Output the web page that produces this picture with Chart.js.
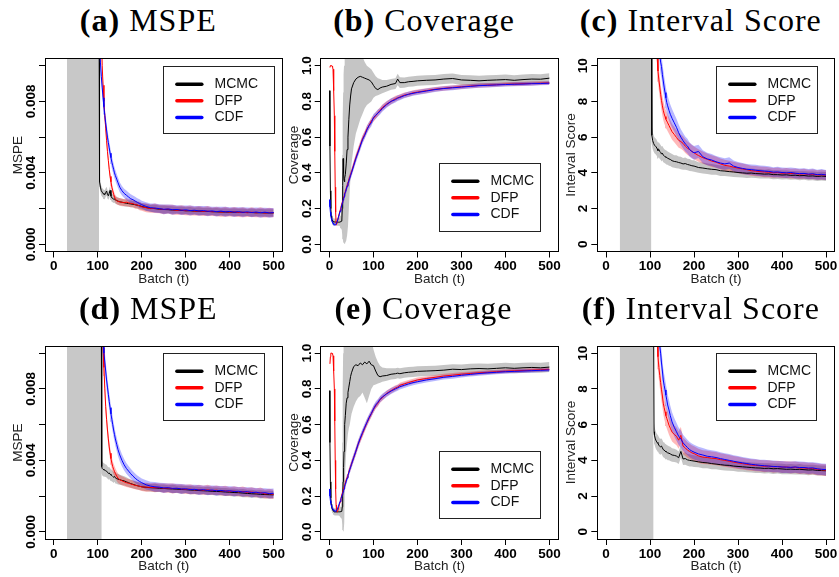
<!DOCTYPE html>
<html>
<head>
<meta charset="utf-8">
<script src="https://cdn.jsdelivr.net/npm/chart.js@4.4.1/dist/chart.umd.min.js"></script>
<style>
  body { margin: 0; background: #fff; }
  #fig { position: relative; width: 839px; height: 577px; overflow: hidden; background: #fff; }
  #fig canvas { position: absolute; }
  .ttl { position: absolute; font-family: "Liberation Serif", "Times New Roman", serif; font-size: 32px;
         line-height: 40px; letter-spacing: 1px; white-space: nowrap; color: #000; transform: translateX(-50%); }
</style>
</head>
<body>
<div id="fig"></div>
<script>
// ---------- series, ticks ----------
const seriesNames = ['MCMC', 'DFP', 'CDF'];
const seriesColors = ['#000000', '#ff0000', '#0000ff'];
const bandColors = ['rgba(140,140,140,0.5)', 'rgba(255,0,0,0.28)', 'rgba(0,0,255,0.28)'];

const xTicks = [0, 100, 200, 300, 400, 500];
const xTickLabels = ['0', '100', '200', '300', '400', '500'];
const mspeTicks = [0, 0.002, 0.004, 0.006, 0.008, 0.010];
const mspeTickLabels = ['0.000', '', '0.004', '', '0.008', ''];
const covTicks = [0, 0.2, 0.4, 0.6, 0.8, 1.0];
const covTickLabels = ['0.0', '0.2', '0.4', '0.6', '0.8', '1.0'];
const isTicks = [0, 2, 4, 6, 8, 10];
const isTickLabels = ['0', '2', '4', '6', '8', '10'];

// batches at which the curves are recorded
const batchTop = [103,104,106,108,110,112,114,116,118,120,122,124,126,128,130,132,134,136,138,140,143,146,150,155,160,165,170,175,180,185,190,195,200,210,220,230,240,250,260,270,280,290,300,310,320,330,340,350,360,370,380,390,400,410,420,430,440,450,460,470,480,490,500];
const batchBottom = [108,109,110,112,114,116,118,120,122,124,126,128,130,132,134,136,138,140,143,146,150,155,160,165,170,175,180,185,190,195,200,210,220,230,240,250,260,270,280,290,300,310,320,330,340,350,360,370,380,390,400,410,420,430,440,450,460,470,480,490,500];
const batchCov = [0,1,2,3,4,5,6,7,8,9,10,11,12,13,14,15,16,18,20,22,24,26,28,29,30,31,32,33,34,35,36,38,40,42,44,46,48,50,55,60,65,70,75,80,85,90,95,100,105,110,115,120,130,140,150,155,160,170,180,190,200,220,240,260,280,300,320,340,360,380,400,420,440,460,480,500];

// batch windows where the MCMC summaries run off the scale
const offScaleA = [30, 103];
const offScaleC = [31, 103];
const offScaleD = [30, 109];
const offScaleF = [31, 108];

// ---------- (a) MSPE ----------
const mspeA_mcmc = [0.0120,0.00350,0.00320,0.00300,0.00292,0.00285,0.00280,0.00278,0.00290,0.00298,0.00280,0.00272,0.00285,0.00302,0.00270,0.00260,0.00258,0.00252,0.00255,0.00248,0.00245,0.00242,0.00238,0.00236,0.00233,0.00230,0.00228,0.00226,0.00224,0.00222,0.00219,0.00216,0.00212,0.00206,0.00202,0.00200,0.00197,0.00195,0.00194,0.00192,0.00191,0.00190,0.00188,0.00188,0.00186,0.00186,0.00184,0.00184,0.00183,0.00182,0.00181,0.00181,0.00180,0.00180,0.00179,0.00179,0.00178,0.00178,0.00177,0.00177,0.00176,0.00176,0.00176];
const mspeA_dfp = [null,null,null,0.0120,0.0100,0.0089,0.0080,0.0072,0.0065,0.0058,0.0052,0.0047,0.0042,0.0038,0.0035,0.0032,0.0030,0.0028,0.00265,0.00255,0.00245,0.00240,0.00238,0.00235,0.00233,0.00236,0.00232,0.00230,0.00228,0.00222,0.00220,0.00215,0.00210,0.00205,0.00200,0.00202,0.00198,0.00195,0.00197,0.00193,0.00190,0.00192,0.00188,0.00190,0.00186,0.00187,0.00184,0.00186,0.00182,0.00184,0.00180,0.00183,0.00180,0.00182,0.00178,0.00180,0.00177,0.00180,0.00176,0.00179,0.00175,0.00178,0.00176];
const mspeA_cdf = [null,0.0120,0.0102,0.0094,0.0088,0.0082,0.0077,0.0072,0.0068,0.0064,0.0060,0.0057,0.0054,0.0051,0.00485,0.0046,0.0044,0.0042,0.0040,0.00385,0.00365,0.00345,0.0032,0.0030,0.00285,0.00275,0.00265,0.00255,0.0025,0.00242,0.00235,0.00228,0.00222,0.00212,0.00205,0.00203,0.00200,0.00196,0.00198,0.00194,0.00195,0.00191,0.00193,0.00189,0.00191,0.00187,0.00189,0.00185,0.00187,0.00183,0.00186,0.00182,0.00184,0.00180,0.00183,0.00179,0.00182,0.00178,0.00181,0.00177,0.00180,0.00176,0.00178];
const mspeA_mcmcSd = [0.00030,0.00030,0.00028,0.00026,0.00025,0.00024,0.00026,0.00025,0.00024,0.00025,0.00024,0.00023,0.00025,0.00024,0.00022,0.00023,0.00022,0.00021,0.00022,0.00021,0.00020,0.00021,0.00020,0.00019,0.00020,0.00019,0.00018,0.00019,0.00018,0.00019,0.00018,0.00019,0.00018,0.00020,0.00019,0.00021,0.00020,0.00022,0.00020,0.00021,0.00019,0.00022,0.00020,0.00021,0.00019,0.00022,0.00020,0.00021,0.00019,0.00022,0.00020,0.00021,0.00019,0.00022,0.00020,0.00021,0.00019,0.00022,0.00020,0.00021,0.00020,0.00021,0.00020];
const mspeA_dfpSd = [0,0,0,0.00040,0.00040,0.00038,0.00036,0.00034,0.00032,0.00030,0.00030,0.00028,0.00027,0.00026,0.00025,0.00024,0.00023,0.00022,0.00022,0.00021,0.00021,0.00020,0.00021,0.00022,0.00020,0.00023,0.00021,0.00022,0.00020,0.00023,0.00021,0.00024,0.00022,0.00025,0.00023,0.00026,0.00024,0.00027,0.00025,0.00028,0.00024,0.00027,0.00025,0.00028,0.00024,0.00027,0.00025,0.00028,0.00024,0.00027,0.00025,0.00028,0.00024,0.00027,0.00025,0.00028,0.00024,0.00027,0.00025,0.00028,0.00025,0.00027,0.00025];
const mspeA_cdfSd = [0,0.00050,0.00048,0.00046,0.00045,0.00044,0.00043,0.00042,0.00041,0.00040,0.00040,0.00039,0.00038,0.00037,0.00036,0.00035,0.00034,0.00033,0.00032,0.00031,0.00030,0.00029,0.00028,0.00027,0.00026,0.00027,0.00025,0.00026,0.00024,0.00025,0.00023,0.00024,0.00022,0.00024,0.00023,0.00026,0.00024,0.00027,0.00025,0.00028,0.00024,0.00027,0.00025,0.00028,0.00024,0.00027,0.00025,0.00028,0.00024,0.00027,0.00025,0.00028,0.00024,0.00027,0.00025,0.00028,0.00024,0.00027,0.00025,0.00028,0.00025,0.00027,0.00025];

// ---------- (b) Coverage ----------
const covB_mcmc = [0.86,0.55,0.3,0.2,0.16,0.145,0.135,0.13,0.128,0.126,0.125,0.125,0.125,0.125,0.125,0.125,0.125,0.124,0.124,0.124,0.125,0.125,0.13,0.2,0.33,0.48,0.4,0.36,0.35,0.37,0.39,0.45,0.53,0.6,0.7,0.78,0.83,0.87,0.905,0.925,0.935,0.94,0.935,0.93,0.925,0.92,0.91,0.89,0.872,0.866,0.875,0.88,0.885,0.895,0.9,0.925,0.905,0.905,0.91,0.912,0.915,0.918,0.92,0.925,0.928,0.92,0.918,0.915,0.918,0.92,0.922,0.918,0.922,0.925,0.924,0.93];
const covB_mcmcLo = [0.84,0.53,0.28,0.18,0.14,0.125,0.115,0.11,0.108,0.106,0.105,0.105,0.105,0.105,0.105,0.105,0.105,0.104,0.104,0.104,0.1,0.09,0.08,0.05,0.03,0.02,0.01,0.0,0.0,0.0,0.01,0.02,0.05,0.1,0.2,0.3,0.38,0.45,0.55,0.62,0.66,0.7,0.73,0.76,0.78,0.79,0.8,0.82,0.83,0.835,0.84,0.845,0.855,0.865,0.87,0.89,0.875,0.877,0.882,0.884,0.887,0.89,0.892,0.897,0.9,0.892,0.89,0.887,0.89,0.892,0.894,0.89,0.894,0.897,0.896,0.902];
const covB_mcmcHi = [0.88,0.57,0.32,0.22,0.18,0.165,0.155,0.15,0.148,0.146,0.145,0.145,0.145,0.145,0.145,0.145,0.145,0.144,0.144,0.15,0.16,0.18,0.22,0.5,0.7,0.85,0.95,1.0,1.06,1.1,1.1,1.1,1.1,1.1,1.1,1.1,1.1,1.1,1.1,1.1,1.1,1.1,1.05,1.02,1.0,0.99,0.98,0.96,0.94,0.93,0.925,0.92,0.92,0.925,0.93,0.955,0.935,0.933,0.938,0.94,0.943,0.946,0.948,0.953,0.956,0.948,0.946,0.943,0.946,0.948,0.95,0.946,0.95,0.953,0.952,0.958];
const covB_dfp = [null,0.99,1.0,1.0,1.0,0.999,0.997,0.993,0.98,0.95,0.86,0.72,0.52,0.32,0.18,0.12,0.112,0.13,0.15,0.17,0.19,0.21,0.225,0.235,0.245,0.25,0.26,0.27,0.28,0.285,0.295,0.31,0.33,0.345,0.36,0.375,0.39,0.405,0.445,0.485,0.52,0.555,0.59,0.615,0.645,0.665,0.69,0.705,0.72,0.735,0.75,0.765,0.785,0.8,0.815,0.82,0.825,0.835,0.84,0.848,0.852,0.86,0.868,0.873,0.878,0.882,0.886,0.889,0.891,0.893,0.896,0.897,0.899,0.9,0.902,0.903];
const covB_cdf = [0.25,0.21,0.18,0.16,0.145,0.135,0.128,0.122,0.118,0.115,0.112,0.11,0.11,0.11,0.112,0.115,0.12,0.13,0.148,0.165,0.185,0.2,0.22,0.23,0.24,0.248,0.256,0.265,0.274,0.282,0.29,0.305,0.325,0.34,0.355,0.37,0.385,0.4,0.44,0.48,0.515,0.55,0.585,0.61,0.64,0.665,0.68,0.71,0.722,0.735,0.745,0.76,0.782,0.8,0.81,0.818,0.822,0.832,0.84,0.845,0.85,0.858,0.866,0.872,0.876,0.88,0.884,0.888,0.89,0.892,0.894,0.896,0.897,0.899,0.9,0.902];
const covB_dfpSd = [0,0.004,0.003,0.003,0.003,0.004,0.005,0.006,0.008,0.01,0.015,0.02,0.02,0.015,0.012,0.01,0.01,0.01,0.012,0.012,0.014,0.014,0.015,0.015,0.016,0.016,0.017,0.017,0.018,0.018,0.018,0.018,0.019,0.019,0.02,0.02,0.02,0.02,0.021,0.021,0.022,0.022,0.021,0.02,0.02,0.019,0.02,0.019,0.018,0.018,0.017,0.017,0.017,0.016,0.016,0.015,0.015,0.015,0.014,0.014,0.014,0.014,0.013,0.013,0.013,0.012,0.012,0.012,0.012,0.011,0.011,0.011,0.011,0.011,0.01,0.01];
const covB_cdfSd = [0.01,0.01,0.009,0.008,0.008,0.008,0.008,0.008,0.008,0.008,0.008,0.008,0.008,0.008,0.008,0.009,0.01,0.011,0.012,0.013,0.014,0.015,0.015,0.016,0.016,0.017,0.017,0.018,0.018,0.018,0.019,0.019,0.02,0.02,0.021,0.021,0.021,0.022,0.022,0.023,0.022,0.023,0.022,0.021,0.022,0.021,0.02,0.02,0.019,0.019,0.018,0.018,0.017,0.017,0.016,0.016,0.015,0.015,0.015,0.014,0.014,0.014,0.013,0.013,0.013,0.012,0.012,0.012,0.012,0.011,0.011,0.011,0.011,0.011,0.01,0.01];

// ---------- (c) Interval Score ----------
const isC_mcmc = [12,6.1,5.8,5.65,5.55,5.5,5.45,5.35,5.25,5.3,5.2,5.15,5.05,5.1,5.0,4.95,4.9,4.88,4.85,4.82,4.78,4.75,4.68,4.64,4.62,4.58,4.55,4.5,4.52,4.47,4.44,4.4,4.38,4.3,4.27,4.23,4.2,4.18,4.12,4.1,4.07,4.05,4.02,4.0,3.98,3.99,3.96,3.95,3.93,3.94,3.9,3.9,3.88,3.89,3.86,3.87,3.84,3.85,3.82,3.83,3.8,3.82,3.8];
const isC_dfp = [null,null,null,null,null,null,11.5,10.5,9.7,9.2,8.8,8.4,8.05,7.75,7.5,7.3,7.15,7.0,6.9,6.8,6.65,6.5,6.3,6.15,5.98,5.82,5.75,5.65,5.5,5.38,5.3,5.2,5.12,4.97,4.85,4.76,4.66,4.6,4.5,4.42,4.38,4.32,4.27,4.22,4.18,4.12,4.1,4.07,4.05,4.04,4.0,4.02,3.98,3.99,3.96,3.97,3.93,3.95,3.91,3.92,3.88,3.9,3.87];
const isC_cdf = [null,null,null,null,null,null,null,null,null,11.5,10.6,10.2,9.95,9.5,9.14,8.8,8.49,8.2,7.93,7.75,7.5,7.28,7.05,6.8,6.55,6.25,6.0,5.8,5.62,5.5,5.3,5.2,5.12,5.2,4.9,4.78,4.72,4.62,4.55,4.5,4.55,4.38,4.3,4.25,4.2,4.18,4.15,4.12,4.1,4.08,4.04,4.05,4.02,4.0,4.02,3.98,3.96,3.97,3.93,3.95,3.9,3.92,3.88];
const isC_mcmcSd = [0.5,0.5,0.48,0.46,0.45,0.44,0.45,0.43,0.44,0.42,0.43,0.41,0.42,0.4,0.41,0.39,0.4,0.38,0.39,0.37,0.38,0.36,0.37,0.35,0.36,0.34,0.35,0.33,0.34,0.32,0.33,0.31,0.32,0.3,0.31,0.29,0.3,0.28,0.29,0.28,0.27,0.28,0.27,0.26,0.27,0.26,0.25,0.26,0.25,0.26,0.25,0.24,0.25,0.24,0.25,0.24,0.25,0.24,0.25,0.24,0.25,0.24,0.25];
const isC_dfpSd = [0,0,0,0,0,0,0.6,0.6,0.6,0.6,0.6,0.58,0.56,0.55,0.54,0.52,0.5,0.5,0.48,0.47,0.46,0.45,0.44,0.43,0.42,0.41,0.4,0.4,0.39,0.38,0.37,0.36,0.36,0.35,0.34,0.33,0.33,0.32,0.31,0.31,0.3,0.3,0.29,0.3,0.29,0.28,0.29,0.28,0.29,0.28,0.27,0.28,0.27,0.28,0.27,0.28,0.27,0.28,0.27,0.28,0.27,0.28,0.27];
const isC_cdfSd = [0,0,0,0,0,0,0,0,0,0.7,0.7,0.68,0.66,0.65,0.63,0.62,0.6,0.59,0.58,0.57,0.56,0.54,0.52,0.5,0.48,0.46,0.44,0.43,0.42,0.41,0.4,0.39,0.38,0.37,0.36,0.35,0.34,0.33,0.33,0.32,0.32,0.31,0.31,0.3,0.3,0.29,0.3,0.29,0.3,0.29,0.28,0.29,0.28,0.29,0.28,0.29,0.28,0.29,0.28,0.29,0.28,0.29,0.28];

// ---------- (d) MSPE ----------
const mspeD_mcmc = [0.0120,0.00365,0.00355,0.00350,0.00347,0.00345,0.00342,0.00340,0.00333,0.00327,0.00330,0.00322,0.00318,0.00315,0.00310,0.00306,0.00310,0.00302,0.00298,0.00295,0.00292,0.00288,0.00285,0.00280,0.00275,0.00270,0.00266,0.00262,0.00258,0.00255,0.00252,0.00249,0.00247,0.00246,0.00244,0.00243,0.00241,0.00240,0.00239,0.00237,0.00236,0.00234,0.00233,0.00231,0.00230,0.00229,0.00227,0.00226,0.00225,0.00223,0.00222,0.00220,0.00219,0.00217,0.00215,0.00213,0.00212,0.00210,0.00209,0.00208,0.00207];
const mspeD_dfp = [null,null,0.0120,0.0103,0.0092,0.0080,0.0070,0.0063,0.0057,0.0052,0.00475,0.0044,0.0041,0.00385,0.00365,0.0035,0.00338,0.00327,0.00312,0.0030,0.00292,0.00286,0.0028,0.00275,0.00272,0.00268,0.00264,0.0026,0.00258,0.00255,0.00252,0.0025,0.00249,0.00247,0.00248,0.00244,0.00245,0.00242,0.00243,0.0024,0.00238,0.00239,0.00235,0.00236,0.00233,0.00235,0.00231,0.00233,0.00229,0.0023,0.00226,0.00228,0.00224,0.00226,0.00221,0.00223,0.00218,0.0022,0.00212,0.00214,0.0021];
const mspeD_cdf = [null,null,0.0120,0.0106,0.0100,0.0095,0.0090,0.0085,0.0081,0.0077,0.0073,0.00695,0.0066,0.0063,0.0060,0.0057,0.00545,0.0052,0.0049,0.0046,0.0043,0.0040,0.00375,0.00355,0.0034,0.00325,0.00312,0.0030,0.0029,0.00282,0.00275,0.00263,0.00256,0.00252,0.0025,0.00246,0.00247,0.00243,0.00244,0.0024,0.00241,0.00237,0.00238,0.00234,0.00236,0.00232,0.00234,0.0023,0.00232,0.00228,0.0023,0.00226,0.00227,0.00223,0.00225,0.0022,0.00222,0.00217,0.00219,0.00214,0.00216];
const mspeD_mcmcSd = [0.00040,0.00040,0.00040,0.00038,0.00037,0.00036,0.00035,0.00036,0.00034,0.00035,0.00033,0.00034,0.00032,0.00033,0.00031,0.00032,0.00030,0.00031,0.00029,0.00030,0.00028,0.00027,0.00026,0.00025,0.00024,0.00023,0.00022,0.00022,0.00021,0.00021,0.00020,0.00022,0.00021,0.00023,0.00021,0.00022,0.00020,0.00023,0.00021,0.00022,0.00020,0.00023,0.00021,0.00022,0.00020,0.00023,0.00021,0.00022,0.00020,0.00023,0.00021,0.00022,0.00020,0.00023,0.00021,0.00022,0.00020,0.00023,0.00021,0.00022,0.00021];
const mspeD_dfpSd = [0,0,0.00050,0.00050,0.00048,0.00046,0.00044,0.00042,0.00040,0.00038,0.00036,0.00035,0.00034,0.00033,0.00032,0.00031,0.00030,0.00029,0.00028,0.00027,0.00026,0.00025,0.00025,0.00024,0.00024,0.00023,0.00023,0.00022,0.00022,0.00022,0.00023,0.00025,0.00023,0.00026,0.00024,0.00027,0.00025,0.00028,0.00024,0.00027,0.00025,0.00028,0.00024,0.00027,0.00025,0.00028,0.00024,0.00027,0.00025,0.00028,0.00024,0.00027,0.00025,0.00028,0.00024,0.00027,0.00025,0.00028,0.00025,0.00027,0.00026];
const mspeD_cdfSd = [0,0,0.00060,0.00060,0.00058,0.00056,0.00054,0.00052,0.00050,0.00048,0.00046,0.00045,0.00044,0.00043,0.00042,0.00041,0.00040,0.00039,0.00038,0.00037,0.00036,0.00034,0.00032,0.00030,0.00029,0.00028,0.00027,0.00026,0.00025,0.00025,0.00024,0.00026,0.00024,0.00027,0.00025,0.00028,0.00024,0.00027,0.00025,0.00028,0.00024,0.00027,0.00025,0.00028,0.00024,0.00027,0.00025,0.00028,0.00024,0.00027,0.00025,0.00028,0.00024,0.00027,0.00025,0.00028,0.00024,0.00027,0.00025,0.00027,0.00026];

// ---------- (e) Coverage ----------
const covE_mcmc = [0.79,0.5,0.28,0.19,0.155,0.14,0.13,0.125,0.12,0.118,0.115,0.112,0.112,0.112,0.112,0.112,0.112,0.112,0.112,0.112,0.112,0.112,0.115,0.14,0.2,0.28,0.36,0.45,0.55,0.6,0.65,0.72,0.75,0.78,0.81,0.84,0.87,0.89,0.925,0.935,0.93,0.945,0.935,0.95,0.94,0.955,0.935,0.93,0.9,0.875,0.868,0.872,0.875,0.882,0.885,0.888,0.885,0.89,0.893,0.895,0.898,0.9,0.902,0.905,0.91,0.908,0.912,0.914,0.912,0.915,0.918,0.915,0.918,0.92,0.918,0.922];
const covE_mcmcLo = [0.77,0.48,0.26,0.17,0.135,0.12,0.11,0.105,0.1,0.098,0.095,0.092,0.092,0.092,0.092,0.092,0.092,0.092,0.092,0.09,0.085,0.08,0.07,0.04,0.01,0.0,0.0,0.05,0.15,0.25,0.35,0.45,0.5,0.55,0.58,0.6,0.63,0.66,0.7,0.73,0.75,0.76,0.78,0.75,0.72,0.76,0.8,0.82,0.825,0.83,0.835,0.84,0.845,0.852,0.856,0.86,0.857,0.862,0.865,0.867,0.87,0.872,0.874,0.877,0.882,0.88,0.884,0.886,0.884,0.887,0.89,0.887,0.89,0.892,0.89,0.894];
const covE_mcmcHi = [0.81,0.52,0.3,0.21,0.175,0.16,0.15,0.145,0.14,0.138,0.135,0.132,0.132,0.132,0.132,0.132,0.132,0.132,0.132,0.135,0.14,0.15,0.18,0.5,0.8,1.0,1.1,1.1,1.1,1.1,1.1,1.1,1.1,1.1,1.1,1.1,1.1,1.1,1.1,1.1,1.1,1.1,1.1,1.1,1.1,1.1,1.08,1.02,0.98,0.95,0.93,0.92,0.915,0.915,0.915,0.918,0.915,0.92,0.922,0.924,0.926,0.928,0.93,0.933,0.938,0.936,0.94,0.942,0.94,0.943,0.946,0.943,0.946,0.948,0.946,0.95];
const covE_dfp = [null,0.94,0.98,1.0,1.0,1.0,0.998,0.995,0.985,0.96,0.9,0.8,0.62,0.4,0.24,0.15,0.118,0.112,0.128,0.148,0.168,0.188,0.205,0.215,0.225,0.233,0.24,0.25,0.258,0.265,0.273,0.29,0.305,0.32,0.335,0.35,0.365,0.38,0.415,0.45,0.49,0.52,0.55,0.58,0.61,0.635,0.66,0.685,0.705,0.72,0.74,0.75,0.775,0.79,0.805,0.81,0.82,0.828,0.836,0.843,0.85,0.858,0.865,0.872,0.877,0.882,0.886,0.89,0.893,0.896,0.899,0.901,0.903,0.905,0.907,0.91];
const covE_cdf = [0.24,0.2,0.175,0.16,0.148,0.14,0.133,0.128,0.125,0.122,0.12,0.118,0.116,0.115,0.115,0.117,0.12,0.128,0.14,0.155,0.17,0.185,0.2,0.208,0.215,0.225,0.232,0.24,0.248,0.256,0.265,0.282,0.3,0.316,0.332,0.348,0.362,0.378,0.415,0.452,0.49,0.525,0.555,0.585,0.612,0.64,0.662,0.688,0.71,0.725,0.742,0.755,0.772,0.788,0.8,0.806,0.812,0.82,0.828,0.835,0.84,0.85,0.857,0.865,0.87,0.876,0.881,0.886,0.89,0.893,0.896,0.898,0.9,0.902,0.904,0.906];
const covE_dfpSd = [0,0.004,0.003,0.003,0.003,0.003,0.004,0.005,0.007,0.01,0.014,0.02,0.022,0.018,0.014,0.011,0.01,0.01,0.011,0.012,0.013,0.014,0.015,0.015,0.016,0.016,0.017,0.017,0.018,0.018,0.018,0.019,0.019,0.02,0.02,0.021,0.021,0.021,0.022,0.022,0.022,0.021,0.021,0.02,0.021,0.02,0.019,0.019,0.018,0.018,0.017,0.017,0.016,0.016,0.016,0.015,0.015,0.015,0.014,0.014,0.014,0.013,0.013,0.013,0.012,0.012,0.012,0.012,0.011,0.011,0.011,0.011,0.011,0.01,0.01,0.01];
const covE_cdfSd = [0.01,0.01,0.009,0.008,0.008,0.008,0.008,0.008,0.008,0.008,0.008,0.008,0.008,0.008,0.008,0.009,0.01,0.011,0.012,0.013,0.014,0.015,0.015,0.016,0.016,0.017,0.017,0.018,0.018,0.018,0.019,0.019,0.02,0.02,0.021,0.021,0.022,0.022,0.022,0.023,0.023,0.022,0.022,0.021,0.021,0.02,0.02,0.02,0.019,0.019,0.018,0.018,0.017,0.017,0.016,0.016,0.015,0.015,0.015,0.014,0.014,0.014,0.013,0.013,0.013,0.012,0.012,0.012,0.012,0.011,0.011,0.011,0.011,0.011,0.01,0.01];

// ---------- (f) Interval Score ----------
const isF_mcmc = [12,5.6,5.4,5.2,5.08,5.0,4.95,4.85,4.78,4.76,4.8,4.7,4.6,4.58,4.52,4.48,4.46,4.42,4.4,4.36,4.3,4.28,4.24,4.15,4.5,4.08,4.1,4.03,4.0,3.98,3.96,3.92,3.88,3.86,3.82,3.79,3.76,3.73,3.72,3.68,3.66,3.64,3.62,3.6,3.58,3.57,3.55,3.56,3.53,3.54,3.52,3.5,3.51,3.49,3.5,3.48,3.46,3.47,3.44,3.43,3.42];
const isF_dfp = [null,null,null,null,null,11,9.8,9.2,8.75,8.35,7.95,7.6,7.2,6.95,6.72,6.5,6.35,6.2,5.97,5.8,5.58,5.45,5.35,5.13,5.4,4.8,4.7,4.57,4.5,4.42,4.38,4.25,4.18,4.16,4.12,4.1,4.04,4.0,3.95,3.9,3.86,3.82,3.78,3.74,3.72,3.7,3.67,3.68,3.64,3.66,3.62,3.63,3.6,3.62,3.57,3.58,3.54,3.55,3.5,3.47,3.45];
const isF_cdf = [null,null,null,null,null,null,null,11,10.4,10.0,9.45,9.0,8.5,8.2,7.94,7.65,7.38,7.1,6.82,6.5,6.15,5.85,5.6,5.35,5.2,4.98,4.85,4.72,4.6,4.52,4.46,4.36,4.3,4.23,4.2,4.16,4.1,4.05,4.0,3.95,3.9,3.86,3.82,3.78,3.75,3.72,3.7,3.68,3.66,3.65,3.63,3.62,3.61,3.63,3.6,3.6,3.57,3.58,3.53,3.5,3.48];
const isF_mcmcSd = [0.5,0.5,0.5,0.48,0.47,0.46,0.45,0.46,0.44,0.45,0.43,0.44,0.42,0.43,0.41,0.42,0.4,0.41,0.39,0.4,0.38,0.37,0.36,0.35,0.36,0.34,0.35,0.33,0.34,0.32,0.33,0.31,0.32,0.3,0.31,0.29,0.3,0.29,0.3,0.28,0.29,0.28,0.29,0.28,0.29,0.28,0.29,0.28,0.29,0.28,0.29,0.28,0.29,0.28,0.29,0.28,0.29,0.28,0.29,0.28,0.29];
const isF_dfpSd = [0,0,0,0,0,0.7,0.7,0.68,0.66,0.65,0.64,0.62,0.6,0.6,0.58,0.57,0.56,0.55,0.54,0.53,0.52,0.5,0.5,0.48,0.48,0.46,0.45,0.44,0.43,0.42,0.41,0.4,0.39,0.38,0.37,0.37,0.36,0.35,0.35,0.34,0.34,0.33,0.33,0.32,0.33,0.32,0.33,0.32,0.33,0.32,0.33,0.32,0.33,0.32,0.33,0.32,0.33,0.32,0.33,0.32,0.33];
const isF_cdfSd = [0,0,0,0,0,0,0,0.7,0.7,0.69,0.68,0.66,0.65,0.64,0.62,0.61,0.6,0.58,0.57,0.55,0.54,0.52,0.5,0.49,0.48,0.46,0.45,0.44,0.43,0.42,0.41,0.4,0.39,0.38,0.37,0.37,0.36,0.35,0.35,0.34,0.34,0.33,0.33,0.32,0.33,0.32,0.33,0.32,0.33,0.32,0.33,0.32,0.33,0.32,0.33,0.32,0.33,0.32,0.33,0.32,0.33];

// ---------- panel definitions ----------
const SANS = '"Liberation Sans", Arial, Helvetica, sans-serif';
const BOX_W = 237.5, BOX_H = 193;

const panels = [
  { tag: '(a)', name: 'MSPE', left: 45, top: 58.5, titleX: 148.3, titleBase: 31,
    yLabel: 'MSPE', yMin: -0.0004, yMax: 0.0104, yTicks: mspeTicks, yTickLabels: mspeTickLabels,
    t: batchTop, offScale: offScaleA,
    mean: [mspeA_mcmc, mspeA_dfp, mspeA_cdf], sd: [mspeA_mcmcSd, mspeA_dfpSd, mspeA_cdfSd],
    legend: { x: 118.3, y: 7.2, w: 110.7, h: 67 } },
  { tag: '(b)', name: 'Coverage', left: 320.7, top: 58.5, titleX: 424, titleBase: 31,
    yLabel: 'Coverage', yMin: -0.04, yMax: 1.04, yTicks: covTicks, yTickLabels: covTickLabels,
    t: batchCov, offScale: null,
    mean: [covB_mcmc, covB_dfp, covB_cdf], sd: [null, covB_dfpSd, covB_cdfSd],
    mcmcLo: covB_mcmcLo, mcmcHi: covB_mcmcHi,
    legend: { x: 118.6, y: 104.8, w: 100.7, h: 67.5 } },
  { tag: '(c)', name: 'Interval Score', left: 597.3, top: 58.5, titleX: 700.8, titleBase: 31,
    yLabel: 'Interval Score', yMin: -0.4, yMax: 10.4, yTicks: isTicks, yTickLabels: isTickLabels,
    t: batchTop, offScale: offScaleC,
    mean: [isC_mcmc, isC_dfp, isC_cdf], sd: [isC_mcmcSd, isC_dfpSd, isC_cdfSd],
    legend: { x: 118.4, y: 7.2, w: 101, h: 67 } },
  { tag: '(d)', name: 'MSPE', left: 45, top: 346, titleX: 148.3, titleBase: 318.5,
    yLabel: 'MSPE', yMin: -0.0004, yMax: 0.0104, yTicks: mspeTicks, yTickLabels: mspeTickLabels,
    t: batchBottom, offScale: offScaleD,
    mean: [mspeD_mcmc, mspeD_dfp, mspeD_cdf], sd: [mspeD_mcmcSd, mspeD_dfpSd, mspeD_cdfSd],
    legend: { x: 118.3, y: 6.7, w: 101, h: 67.3 } },
  { tag: '(e)', name: 'Coverage', left: 320.7, top: 346, titleX: 423.5, titleBase: 318.5,
    yLabel: 'Coverage', yMin: -0.04, yMax: 1.04, yTicks: covTicks, yTickLabels: covTickLabels,
    t: batchCov, offScale: null,
    mean: [covE_mcmc, covE_dfp, covE_cdf], sd: [null, covE_dfpSd, covE_cdfSd],
    mcmcLo: covE_mcmcLo, mcmcHi: covE_mcmcHi,
    legend: { x: 118.6, y: 104.7, w: 100.7, h: 67 } },
  { tag: '(f)', name: 'Interval Score', left: 597.3, top: 346, titleX: 700.8, titleBase: 318.5,
    yLabel: 'Interval Score', yMin: -0.4, yMax: 10.4, yTicks: isTicks, yTickLabels: isTickLabels,
    t: batchBottom, offScale: offScaleF,
    mean: [isF_mcmc, isF_dfp, isF_cdf], sd: [isF_mcmcSd, isF_dfpSd, isF_cdfSd],
    legend: { x: 118.4, y: 6.7, w: 100.3, h: 67.3 } }
];

// ---------- plugins ----------
// frame around the plotting region
const frame = {
  id: 'frame',
  afterDatasetsDraw(chart) {
    const { ctx, chartArea: a } = chart;
    const l = Math.round(a.left - 0.5) + 0.5, t = Math.round(a.top - 0.5) + 0.5;
    const r = Math.round(a.right - 0.5) + 0.5, b = Math.round(a.bottom - 0.5) + 0.5;
    ctx.save();
    ctx.strokeStyle = '#000';
    ctx.lineWidth = 1;
    ctx.strokeRect(l, t, r - l, b - t);
    ctx.restore();
  }
};

// y tick labels written parallel to the axis
const yTickText = {
  id: 'yTickText',
  afterDraw(chart, _args, o) {
    const { ctx, chartArea: a, scales: { y } } = chart;
    ctx.save();
    ctx.font = `bold 13.5px ${SANS}`;
    ctx.fillStyle = '#000';
    ctx.textAlign = 'center';
    ctx.textBaseline = 'alphabetic';
    o.values.forEach((v, i) => {
      const s = o.labels[i];
      if (!s) return;
      ctx.save();
      ctx.translate(a.left - 10, y.getPixelForValue(v));
      ctx.rotate(-Math.PI / 2);
      ctx.fillText(s, 0, 0);
      ctx.restore();
    });
    ctx.restore();
  }
};

// boxed legend inside the plotting region
const boxLegend = {
  id: 'boxLegend',
  afterDraw(chart, _args, o) {
    const { ctx, chartArea: a } = chart;
    const x0 = Math.round(a.left + o.x) + 0.5, y0 = Math.round(a.top + o.y) + 0.5;
    const w = Math.round(o.w), h = Math.round(o.h);
    ctx.save();
    ctx.fillStyle = '#fff';
    ctx.fillRect(x0, y0, w, h);
    ctx.strokeStyle = '#222';
    ctx.lineWidth = 1;
    ctx.strokeRect(x0, y0, w, h);
    ctx.font = `14px ${SANS}`;
    ctx.textBaseline = 'middle';
    ctx.lineCap = 'round';
    const rows = [17.7, 34.3, 51];
    seriesNames.forEach((name, i) => {
      const yy = y0 + rows[i];
      ctx.strokeStyle = seriesColors[i];
      ctx.lineWidth = 3.5;
      ctx.beginPath();
      ctx.moveTo(x0 + 13.4, yy);
      ctx.lineTo(x0 + 38.3, yy);
      ctx.stroke();
      ctx.fillStyle = '#111';
      ctx.fillText(name, x0 + 51, yy);
    });
    ctx.restore();
  }
};

// ---------- building ----------
const fig = document.getElementById('fig');

function pts(t, vals) {
  return t.map((x, i) => ({ x, y: vals[i] == null ? null : vals[i] }));
}

function buildPanel(p) {
  // title
  const ttl = document.createElement('div');
  ttl.className = 'ttl';
  ttl.style.left = p.titleX + 'px';
  ttl.style.top = (p.titleBase - 30.8) + 'px';
  ttl.innerHTML = `<b>${p.tag}</b> ${p.name}`;
  fig.appendChild(ttl);

  // canvas geometry so that the plotting region lands on the panel box
  const xH = 42;
  const cl = Math.floor(p.left) - 46, ct = Math.floor(p.top) - 4;
  const yW = p.left - cl, padTop = p.top - ct;
  const cw = Math.ceil(p.left + BOX_W) + 5 - cl;
  const padRight = cw - (p.left + BOX_W - cl);
  const ch = Math.ceil(p.top + BOX_H - ct + xH);
  const padBottom = ch - (p.top + BOX_H - ct) - xH;

  const canvas = document.createElement('canvas');
  canvas.width = cw; canvas.height = ch;
  canvas.style.left = cl + 'px'; canvas.style.top = ct + 'px';
  canvas.style.width = cw + 'px'; canvas.style.height = ch + 'px';
  fig.appendChild(canvas);

  const datasets = [];
  // bands: MCMC, DFP, CDF
  for (let k = 0; k < 3; k++) {
    let lo, hi;
    if (k === 0 && p.mcmcLo) {
      lo = p.mcmcLo; hi = p.mcmcHi;
    } else {
      const m = p.mean[k], s = p.sd[k];
      lo = m.map((v, i) => v == null ? null : v - (s[i] || 0));
      hi = m.map((v, i) => v == null ? null : v + (s[i] || 0));
    }
    datasets.push({ data: pts(p.t, lo), borderWidth: 0, pointRadius: 0, fill: false, order: 8 - k });
    datasets.push({ data: pts(p.t, hi), borderWidth: 0, pointRadius: 0, fill: '-1',
                    backgroundColor: bandColors[k], order: 8 - k });
  }
  // off-scale MCMC window spans the full height
  if (p.offScale) {
    datasets.push({ data: p.offScale.map(x => ({ x, y: p.yMax })), borderWidth: 0, pointRadius: 0,
                    fill: 'start', backgroundColor: '#c8c8c8', order: 9 });
  }
  // mean curves
  for (let k = 0; k < 3; k++) {
    datasets.push({ label: seriesNames[k], data: pts(p.t, p.mean[k]), borderColor: seriesColors[k],
                    borderWidth: 1, pointRadius: 0, fill: false, tension: 0, order: 2 - k });
  }

  const gridOpts = { drawOnChartArea: false, drawTicks: true, tickLength: 6, color: '#000', lineWidth: 1 };
  const lh = 13.5 * 1.2;

  new Chart(canvas, {
    type: 'line',
    data: { datasets },
    options: {
      responsive: false,
      animation: false,
      events: [],
      layout: { autoPadding: false, padding: { left: 0, top: padTop, right: padRight, bottom: padBottom } },
      plugins: {
        legend: { display: false },
        tooltip: { enabled: false },
        yTickText: { values: p.yTicks, labels: p.yTickLabels },
        boxLegend: p.legend
      },
      scales: {
        x: {
          type: 'linear', min: -20, max: 520,
          afterBuildTicks: s => { s.ticks = xTicks.map(v => ({ value: v })); },
          afterFit: s => { s.height = xH; s.paddingLeft = 0; s.paddingRight = 0; },
          ticks: { autoSkip: false, maxRotation: 0, minRotation: 0, padding: 1.1, color: '#000',
                   font: { family: SANS, size: 13.5, weight: 'bold' },
                   callback: (v, i) => xTickLabels[i] },
          grid: gridOpts,
          border: { display: true, color: '#000', width: 1 },
          title: { display: true, text: 'Batch (t)', color: '#222', font: { family: SANS, size: 13.5 },
                   padding: { top: 0, bottom: xH - 27.5 - lh / 2 } }
        },
        y: {
          type: 'linear', min: p.yMin, max: p.yMax,
          afterBuildTicks: s => { s.ticks = p.yTicks.map(v => ({ value: v })); },
          afterFit: s => { s.width = yW; s.paddingTop = 0; s.paddingBottom = 0; },
          ticks: { display: false },
          grid: gridOpts,
          border: { display: true, color: '#000', width: 1 },
          title: { display: true, text: p.yLabel, color: '#222', font: { family: SANS, size: 13.5 },
                   padding: { top: yW - 26.5 - lh / 2, bottom: 0 } }
        }
      }
    },
    plugins: [frame, yTickText, boxLegend]
  });
}

panels.forEach(buildPanel);
</script>
</body>
</html>
